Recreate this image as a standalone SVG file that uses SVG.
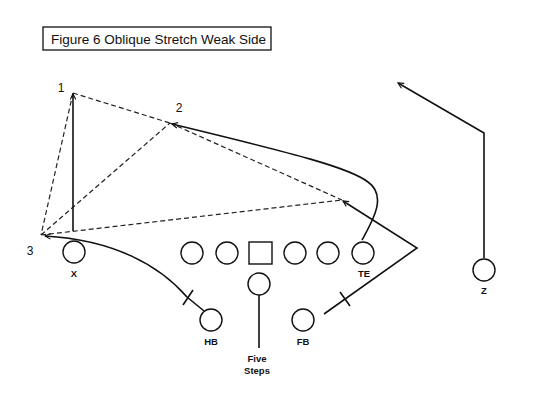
<svg xmlns="http://www.w3.org/2000/svg" width="544" height="400" viewBox="0 0 544 400">
<defs>
<style>
.p{fill:#fff;stroke:#111;stroke-width:1.4}
.r{fill:none;stroke:#111;stroke-width:1.6}
.d{fill:none;stroke:#222;stroke-width:1.2;stroke-dasharray:5 3}
.lb{font-family:"Liberation Sans",Arial,sans-serif;font-size:9.5px;font-weight:bold;fill:#111;text-anchor:middle}
.n{font-family:"Liberation Sans",Arial,sans-serif;font-size:12px;fill:#111;text-anchor:middle}
</style>
<marker id="ah" viewBox="0 0 10 10" refX="9" refY="5" markerWidth="7" markerHeight="7" orient="auto" markerUnits="userSpaceOnUse">
<path d="M1 1 L9 5 L1 9" fill="none" stroke="#111" stroke-width="1.6"/>
</marker>
</defs>
<rect width="544" height="400" fill="#fff"/>
<g id="title">
<rect x="43" y="27" width="228" height="23" fill="#fff" stroke="#111" stroke-width="1.3"/>
<text x="51" y="43.5" font-family="'Liberation Sans',Arial,sans-serif" font-size="13" textLength="215" lengthAdjust="spacingAndGlyphs" fill="#111">Figure 6 Oblique Stretch Weak Side</text>
</g>
<g id="connectors">
<path class="d" d="M73 93 L41 235 M73 93 L170 123 M41 235 L170 123 M170 123 L342 200 M41 235 L342 200"/>
<path class="r" d="M73 231 L73 94" marker-end="url(#ah)"/>
<path class="r" d="M204 311 L187 297 C160 266 115 240 45 236" marker-end="url(#ah)"/>
<path class="r" d="M183 305 L193 290"/>
<path class="r" d="M324 314 L417 248 L343 201" marker-end="url(#ah)"/>
<path class="r" d="M340 292 L350 306"/>
<path class="r" d="M362 240 C372 222 388 196 368 182 C350 168 300 155 172 124" marker-end="url(#ah)"/>
<path class="r" d="M484 258 L484 133 L398 83" marker-end="url(#ah)"/>
<path class="r" d="M259 295 L259 348"/>
</g>
<g id="n1"><text class="n" x="61" y="92">1</text></g>
<g id="n2"><text class="n" x="179" y="112">2</text></g>
<g id="n3"><text class="n" x="30" y="255">3</text></g>
<g id="X"><circle class="p" cx="74" cy="252" r="11"/><text class="lb" x="74" y="277">X</text></g>
<g id="LT"><circle class="p" cx="192" cy="253" r="11"/></g>
<g id="LG"><circle class="p" cx="227" cy="253" r="11"/></g>
<g id="C"><rect class="p" x="249" y="242" width="23" height="22"/></g>
<g id="RG"><circle class="p" cx="295" cy="253" r="11"/></g>
<g id="RT"><circle class="p" cx="328" cy="253" r="11"/></g>
<g id="TE"><circle class="p" cx="363" cy="253" r="11"/><text class="lb" x="364" y="277">TE</text></g>
<g id="QB"><circle class="p" cx="259" cy="284" r="11"/><text class="lb" x="257" y="362">Five</text><text class="lb" x="257" y="374">Steps</text></g>
<g id="HB"><circle class="p" cx="211" cy="320" r="11"/><text class="lb" x="211" y="345">HB</text></g>
<g id="FB"><circle class="p" cx="303" cy="320" r="11"/><text class="lb" x="303" y="345">FB</text></g>
<g id="Z"><circle class="p" cx="484" cy="270" r="11"/><text class="lb" x="484" y="294">Z</text></g>
</svg>
